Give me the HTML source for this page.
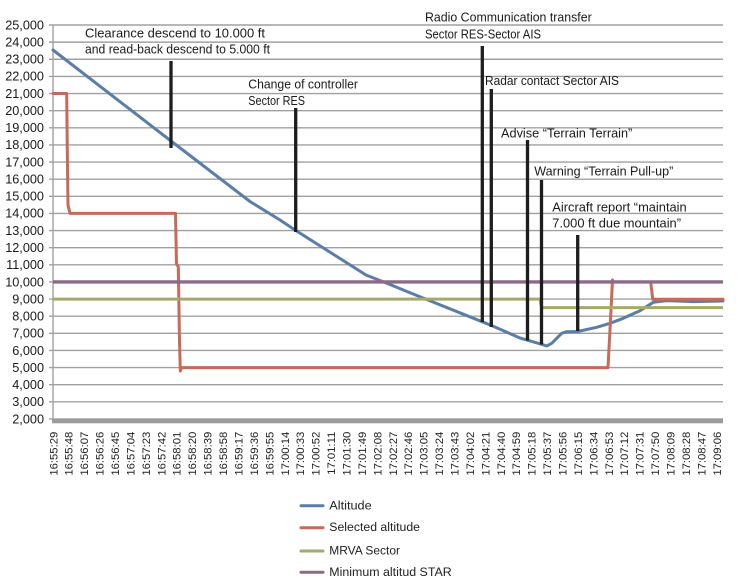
<!DOCTYPE html>
<html><head><meta charset="utf-8"><style>
html,body{margin:0;padding:0;background:#fff;}
svg{display:block;font-family:"Liberation Sans",sans-serif;}
</style></head><body>
<svg width="739" height="588" viewBox="0 0 739 588" xmlns="http://www.w3.org/2000/svg">
<rect width="739" height="588" fill="#fff"/>
<g stroke="#a0a0a0" stroke-width="1.4">
<line x1="49" y1="25" x2="723" y2="25"/>
<line x1="49" y1="42.13" x2="723" y2="42.13"/>
<line x1="49" y1="59.26" x2="723" y2="59.26"/>
<line x1="49" y1="76.39" x2="723" y2="76.39"/>
<line x1="49" y1="93.52" x2="723" y2="93.52"/>
<line x1="49" y1="110.65" x2="723" y2="110.65"/>
<line x1="49" y1="127.78" x2="723" y2="127.78"/>
<line x1="49" y1="144.91" x2="723" y2="144.91"/>
<line x1="49" y1="162.04" x2="723" y2="162.04"/>
<line x1="49" y1="179.17" x2="723" y2="179.17"/>
<line x1="49" y1="196.3" x2="723" y2="196.3"/>
<line x1="49" y1="213.43" x2="723" y2="213.43"/>
<line x1="49" y1="230.56" x2="723" y2="230.56"/>
<line x1="49" y1="247.69" x2="723" y2="247.69"/>
<line x1="49" y1="264.82" x2="723" y2="264.82"/>
<line x1="49" y1="281.95" x2="723" y2="281.95"/>
<line x1="49" y1="299.08" x2="723" y2="299.08"/>
<line x1="49" y1="316.21" x2="723" y2="316.21"/>
<line x1="49" y1="333.34" x2="723" y2="333.34"/>
<line x1="49" y1="350.47" x2="723" y2="350.47"/>
<line x1="49" y1="367.6" x2="723" y2="367.6"/>
<line x1="49" y1="384.73" x2="723" y2="384.73"/>
<line x1="49" y1="401.86" x2="723" y2="401.86"/>
<line x1="49" y1="418.99" x2="53" y2="418.99"/>
<line x1="53" y1="25" x2="53" y2="421"/>
</g>
<rect x="52" y="418.3" width="671" height="5" fill="#9c9c9d"/>
<g font-size="12.7" fill="#1a1a1a" text-anchor="end">
<text x="44" y="29.3">25,000</text>
<text x="44" y="46.43">24,000</text>
<text x="44" y="63.56">23,000</text>
<text x="44" y="80.69">22,000</text>
<text x="44" y="97.82">21,000</text>
<text x="44" y="114.95">20,000</text>
<text x="44" y="132.08">19,000</text>
<text x="44" y="149.21">18,000</text>
<text x="44" y="166.34">17,000</text>
<text x="44" y="183.47">16,000</text>
<text x="44" y="200.6">15,000</text>
<text x="44" y="217.73">14,000</text>
<text x="44" y="234.86">13,000</text>
<text x="44" y="251.99">12,000</text>
<text x="44" y="269.12">11,000</text>
<text x="44" y="286.25">10,000</text>
<text x="44" y="303.38">9,000</text>
<text x="44" y="320.51">8,000</text>
<text x="44" y="337.64">7,000</text>
<text x="44" y="354.77">6,000</text>
<text x="44" y="371.9">5,000</text>
<text x="44" y="389.03">4,000</text>
<text x="44" y="406.16">3,000</text>
<text x="44" y="423.29">2,000</text>
</g>
<g font-size="11.3" fill="#222" text-anchor="end">
<text transform="translate(57.3,431.7) rotate(-90)">16:55:29</text>
<text transform="translate(72.73,431.7) rotate(-90)">16:55:48</text>
<text transform="translate(88.16,431.7) rotate(-90)">16:56:07</text>
<text transform="translate(103.59,431.7) rotate(-90)">16:56:26</text>
<text transform="translate(119.02,431.7) rotate(-90)">16:56:45</text>
<text transform="translate(134.45,431.7) rotate(-90)">16:57:04</text>
<text transform="translate(149.88,431.7) rotate(-90)">16:57:23</text>
<text transform="translate(165.31,431.7) rotate(-90)">16:57:42</text>
<text transform="translate(180.74,431.7) rotate(-90)">16:58:01</text>
<text transform="translate(196.17,431.7) rotate(-90)">16:58:20</text>
<text transform="translate(211.6,431.7) rotate(-90)">16:58:39</text>
<text transform="translate(227.03,431.7) rotate(-90)">16:58:58</text>
<text transform="translate(242.46,431.7) rotate(-90)">16:59:17</text>
<text transform="translate(257.89,431.7) rotate(-90)">16:59:36</text>
<text transform="translate(273.32,431.7) rotate(-90)">16:59:55</text>
<text transform="translate(288.75,431.7) rotate(-90)">17:00:14</text>
<text transform="translate(304.18,431.7) rotate(-90)">17:00:33</text>
<text transform="translate(319.61,431.7) rotate(-90)">17:00:52</text>
<text transform="translate(335.04,431.7) rotate(-90)">17:01:11</text>
<text transform="translate(350.47,431.7) rotate(-90)">17:01:30</text>
<text transform="translate(365.9,431.7) rotate(-90)">17:01:49</text>
<text transform="translate(381.33,431.7) rotate(-90)">17:02:08</text>
<text transform="translate(396.76,431.7) rotate(-90)">17:02:27</text>
<text transform="translate(412.19,431.7) rotate(-90)">17:02:46</text>
<text transform="translate(427.62,431.7) rotate(-90)">17:03:05</text>
<text transform="translate(443.05,431.7) rotate(-90)">17:03:24</text>
<text transform="translate(458.48,431.7) rotate(-90)">17:03:43</text>
<text transform="translate(473.91,431.7) rotate(-90)">17:04:02</text>
<text transform="translate(489.34,431.7) rotate(-90)">17:04:21</text>
<text transform="translate(504.77,431.7) rotate(-90)">17:04:40</text>
<text transform="translate(520.2,431.7) rotate(-90)">17:04:59</text>
<text transform="translate(535.63,431.7) rotate(-90)">17:05:18</text>
<text transform="translate(551.06,431.7) rotate(-90)">17:05:37</text>
<text transform="translate(566.49,431.7) rotate(-90)">17:05:56</text>
<text transform="translate(581.92,431.7) rotate(-90)">17:06:15</text>
<text transform="translate(597.35,431.7) rotate(-90)">17:06:34</text>
<text transform="translate(612.78,431.7) rotate(-90)">17:06:53</text>
<text transform="translate(628.21,431.7) rotate(-90)">17:07:12</text>
<text transform="translate(643.64,431.7) rotate(-90)">17:07:31</text>
<text transform="translate(659.07,431.7) rotate(-90)">17:07:50</text>
<text transform="translate(674.5,431.7) rotate(-90)">17:08:09</text>
<text transform="translate(689.93,431.7) rotate(-90)">17:08:28</text>
<text transform="translate(705.36,431.7) rotate(-90)">17:08:47</text>
<text transform="translate(720.79,431.7) rotate(-90)">17:09:06</text>
</g>
<g fill="none" stroke-linejoin="round" stroke-linecap="round">
<polyline stroke="#5a7ea7" stroke-width="3" points="53,50 171,141 250,201.5 280,220 295,230 366,275 380,280.5 423,298 482,321.7 492,325.7 520,338 541.7,344.3 546.7,346 551.7,343.3 561.7,333.3 566.7,331.7 577.7,331.5 596.7,327.3 610,323.3 623.3,318.3 640,310.7 653.3,302.3 666.7,300.6 693.3,301.6 723,301"/>
<polyline stroke="#c96957" stroke-width="3" points="53,93.5 66.7,93.5 67.3,150 68,205 70,213.4 175.5,213.4 176.5,264 178.3,266.7 179.5,340 180.3,371 181.5,367.6 608,367.6 610.5,320 612.5,280 613,282 650.7,282 652.7,299.3 723,299.3"/>
<polyline stroke="#a6a96b" stroke-width="3" stroke-linecap="butt" points="53,299.08 540,299.08 541.5,307.6 723,307.6"/>
<polyline stroke="#8d6a86" stroke-width="3.4" stroke-linecap="butt" points="53,281.95 723,281.95"/>
</g>
<g stroke="#1e1e1e" stroke-width="3.3">
<line x1="171" y1="61" x2="171" y2="148"/>
<line x1="295.7" y1="108" x2="295.7" y2="232"/>
<line x1="482.3" y1="46" x2="482.3" y2="322"/>
<line x1="491.3" y1="89" x2="491.3" y2="327"/>
<line x1="527.5" y1="140" x2="527.5" y2="340.5"/>
<line x1="541.5" y1="180" x2="541.5" y2="344.5"/>
<line x1="577.7" y1="235" x2="577.7" y2="331"/>
</g>
<g font-size="12.5" fill="#1a1a1a">
<text x="85" y="37.3" textLength="180" lengthAdjust="spacingAndGlyphs">Clearance descend to 10.000 ft</text>
<text x="85" y="53.5" textLength="185" lengthAdjust="spacingAndGlyphs">and read-back descend to 5.000 ft</text>
<text x="248.3" y="88.3" textLength="109.7" lengthAdjust="spacingAndGlyphs">Change of controller</text>
<text x="248.3" y="105" textLength="56.7" lengthAdjust="spacingAndGlyphs">Sector RES</text>
<text x="425" y="21.7" textLength="166.7" lengthAdjust="spacingAndGlyphs">Radio Communication transfer</text>
<text x="425" y="38.3" textLength="116" lengthAdjust="spacingAndGlyphs">Sector RES-Sector AIS</text>
<text x="485" y="85" textLength="134" lengthAdjust="spacingAndGlyphs">Radar contact Sector AIS</text>
<text x="501" y="137.3" textLength="131.3" lengthAdjust="spacingAndGlyphs">Advise “Terrain Terrain”</text>
<text x="534.3" y="175.7" textLength="139" lengthAdjust="spacingAndGlyphs">Warning “Terrain Pull-up”</text>
<text x="552.3" y="211.7" textLength="134.4" lengthAdjust="spacingAndGlyphs">Aircraft report “maintain</text>
<text x="552.3" y="227.7" textLength="128.7" lengthAdjust="spacingAndGlyphs">7.000 ft due mountain”</text>
</g>
<g stroke-width="3" stroke-linecap="round">
<line x1="301" y1="505.7" x2="323" y2="505.7" stroke="#5a7ea7"/>
<line x1="301" y1="527.7" x2="323" y2="527.7" stroke="#c96957"/>
<line x1="301" y1="551" x2="323" y2="551" stroke="#a6a96b"/>
<line x1="301" y1="572.3" x2="323" y2="572.3" stroke="#8d6a86"/>
</g>
<g font-size="12.3" fill="#222">
<text x="329.3" y="509.5" textLength="42.4" lengthAdjust="spacingAndGlyphs">Altitude</text>
<text x="329.3" y="531" textLength="90.7" lengthAdjust="spacingAndGlyphs">Selected altitude</text>
<text x="329.3" y="554.5" textLength="70.7" lengthAdjust="spacingAndGlyphs">MRVA Sector</text>
<text x="329.3" y="576" textLength="122.4" lengthAdjust="spacingAndGlyphs">Minimum altitud STAR</text>
</g>
</svg>
</body></html>
